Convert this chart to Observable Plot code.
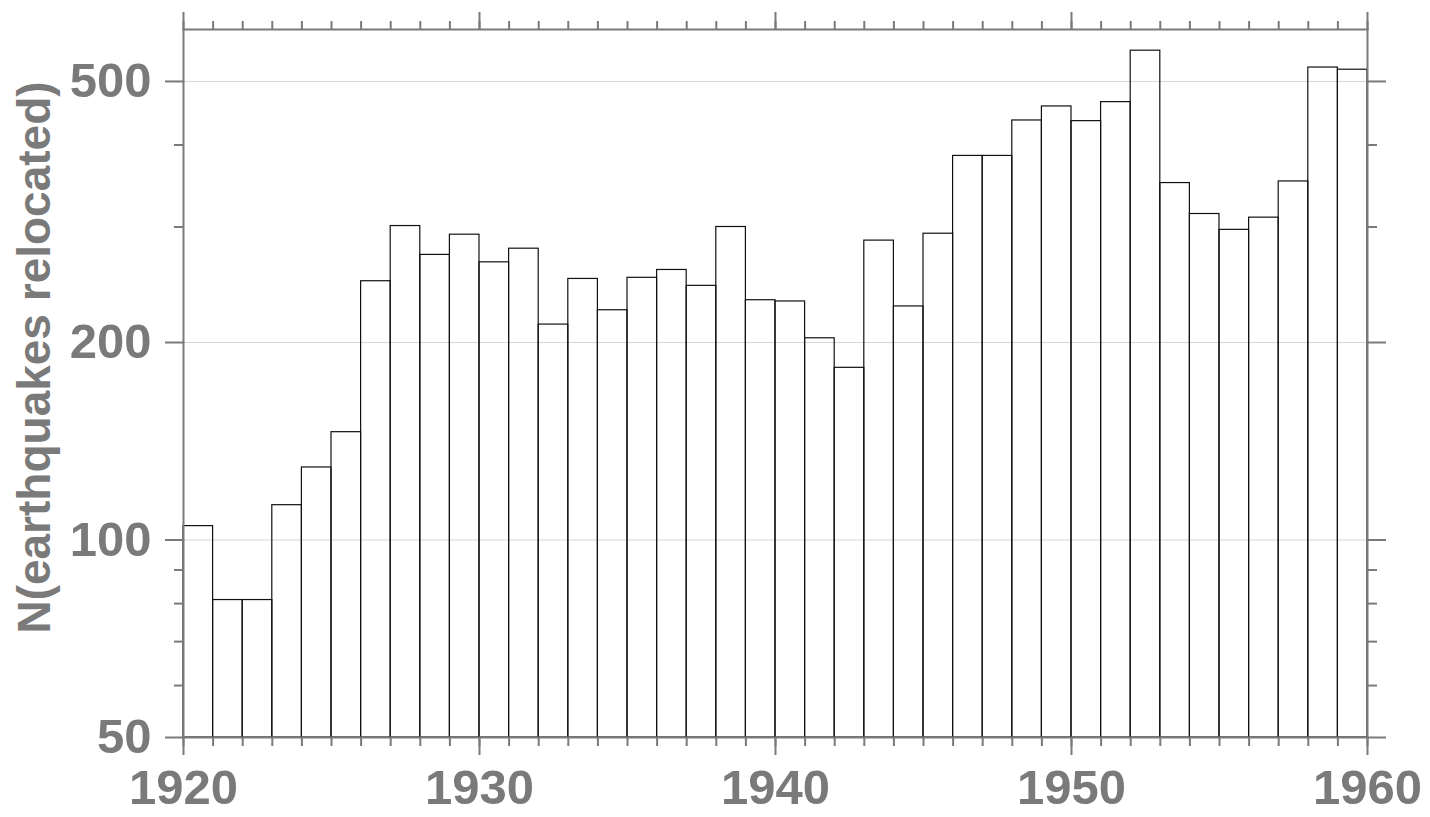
<!DOCTYPE html>
<html>
<head>
<meta charset="utf-8">
<script src="https://cdn.jsdelivr.net/npm/d3@7"></script>
<script src="https://cdn.jsdelivr.net/npm/@observablehq/plot@0.6"></script>
<style>
  html, body { margin: 0; padding: 0; background: #fff; }
</style>
</head>
<body>
<div id="chart"></div>
<script>
// ---- data ----
const years = [1920,1921,1922,1923,1924,1925,1926,1927,1928,1929,
               1930,1931,1932,1933,1934,1935,1936,1937,1938,1939,
               1940,1941,1942,1943,1944,1945,1946,1947,1948,1949,
               1950,1951,1952,1953,1954,1955,1956,1957,1958,1959];
const counts = [105, 81, 81,113,129,146,248,301,272,292,
                265,278,213,250,224,251,258,244,300,232,
                231,203,183,286,227,293,385,385,436,458,
                435,465,557,350,314,297,310,352,525,521];
const yearDomain = [1920, 1960];
const countDomain = [50, 600];
const majorYearTicks = [1920,1930,1940,1950,1960];
const minorYearTicks = [1920,1921,1922,1923,1924,1925,1926,1927,1928,1929,
                        1930,1931,1932,1933,1934,1935,1936,1937,1938,1939,
                        1940,1941,1942,1943,1944,1945,1946,1947,1948,1949,
                        1950,1951,1952,1953,1954,1955,1956,1957,1958,1959,1960];
const majorCountTicks = [50,100,200,500];
const minorCountTicks = [60,70,80,90,300,400];
const gridCounts = [100,200,500];
const yLabel = "N(earthquakes relocated)";

const data = years.map((y, i) => ({start: y, end: y + 1, n: counts[i]}));

const gray = "#7a7a7a";
const fs = 49;
const labelFs = 46;

const plot = Plot.plot({
  width: 1430,
  height: 817,
  marginLeft: 183,
  marginRight: 63,
  marginTop: 29,
  marginBottom: 80,
  style: {
    fontFamily: "'Liberation Sans', Arial, Helvetica, sans-serif",
    fontWeight: "bold",
    color: gray,
    background: "#fff",
    overflow: "visible"
  },
  x: {domain: yearDomain, label: null},
  y: {type: "log", domain: countDomain, label: null},
  marks: [
    Plot.ruleY(gridCounts, {stroke: "#d6d6d6", strokeWidth: 1}),
    Plot.rect(data, {x1: "start", x2: "end", y1: () => countDomain[0], y2: "n",
                     fill: "none", stroke: "#111", strokeWidth: 1.2}),
    // bottom axis
    Plot.axisX(minorYearTicks, {anchor: "bottom", tickSize: 9, fill: "none", strokeWidth: 2, label: null}),
    Plot.axisX(majorYearTicks, {anchor: "bottom", tickSize: 18, tickPadding: 14, tickFormat: "d",
                                fontSize: fs, strokeWidth: 2, label: null}),
    // top axis
    Plot.axisX(minorYearTicks, {anchor: "top", tickSize: 9, fill: "none", strokeWidth: 2, label: null}),
    Plot.axisX(majorYearTicks, {anchor: "top", tickSize: 18, fill: "none", strokeWidth: 2, label: null}),
    // left axis
    Plot.axisY(minorCountTicks, {anchor: "left", tickSize: 9, fill: "none", strokeWidth: 2, label: null}),
    Plot.axisY(majorCountTicks, {anchor: "left", tickSize: 18, tickPadding: 14, tickFormat: "d",
                                 fontSize: fs, strokeWidth: 2, label: null}),
    // right axis
    Plot.axisY(minorCountTicks, {anchor: "right", tickSize: 9, fill: "none", strokeWidth: 2, label: null}),
    Plot.axisY(majorCountTicks, {anchor: "right", tickSize: 18, fill: "none", strokeWidth: 2, label: null}),
    Plot.frame({stroke: gray, strokeWidth: 2}),
    Plot.text([yLabel], {frameAnchor: "left", rotate: -90, dx: -134, dy: -26,
                         fontSize: labelFs, textAnchor: "middle", lineAnchor: "bottom", fill: gray})
  ]
});
document.getElementById("chart").appendChild(plot);
</script>
</body>
</html>
